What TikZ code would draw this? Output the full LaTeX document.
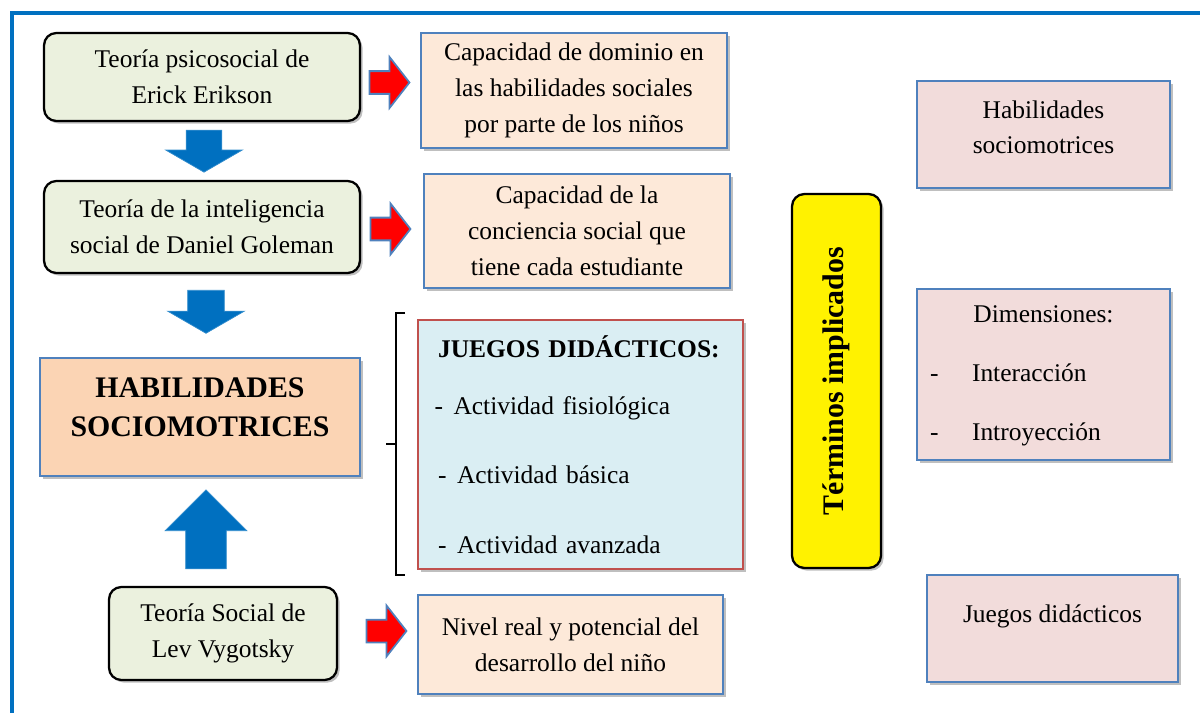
\documentclass[tikz,border=0pt]{standalone}
\usepackage{fontspec}
\setmainfont{Liberation Serif}
\usetikzlibrary{shapes.arrows,shadows}

\definecolor{azulmarco}{HTML}{0070C0}
\definecolor{bordeazul}{HTML}{4F81BD}
\definecolor{borderojo}{HTML}{C0504D}
\definecolor{verdeteoria}{HTML}{EBF1DE}
\definecolor{durazno}{HTML}{FBD4B4}
\definecolor{duraznoclaro}{HTML}{FDE9D9}
\definecolor{celeste}{HTML}{DAEEF3}
\definecolor{rosado}{HTML}{F2DCDB}

\newcommand{\fuentenormal}{\fontsize{14.5}{20.4}\selectfont}
\newcommand{\fuentegrande}{\fontsize{17}{22}\selectfont\bfseries}

\tikzset{
  sombra/.style={drop shadow={shadow xshift=1.5pt, shadow yshift=-1.5pt, opacity=0.25, fill=black}},
  teoria/.style={draw=black, line width=1.3pt, rounded corners=7pt, fill=verdeteoria, align=center, inner sep=0pt, font=\fuentenormal, sombra},
  aporte/.style={draw=bordeazul, line width=1.1pt, fill=duraznoclaro, align=center, inner sep=0pt, font=\fuentenormal, sombra},
  termino/.style={draw=bordeazul, line width=1.1pt, fill=rosado, align=center, inner sep=0pt, font=\fuentenormal, sombra},
  flechaazul/.style={single arrow, fill=azulmarco, draw=azulmarco!80!white, line width=0.4pt, inner xsep=0pt, outer sep=0pt},
  flecharoja/.style={single arrow, fill=red, draw=bordeazul, line width=1pt, inner xsep=0pt, inner ysep=0.21cm, outer sep=0pt,
    minimum height=0.8cm, single arrow head extend=0.28cm, single arrow tip angle=104}
}

\begin{document}
\begin{tikzpicture}[x=0.02cm, y=-0.02cm]
  \useasboundingbox (0,0) rectangle (1200,713);
  % marco
  \draw[azulmarco, line width=2.3pt] (1205,13) -- (12,13) -- (12,720);

  % teorias
  \node at (202,77) [teoria, minimum width=6.32cm, minimum height=1.76cm] (erikson) {Teoría psicosocial de\\Erick Erikson};
  \node at (202,227) [teoria, minimum width=6.32cm, minimum height=1.84cm] (goleman) {Teoría de la inteligencia\\social de Daniel Goleman};
  \node at (200,417) [draw=bordeazul, line width=1.1pt, fill=durazno, align=center, inner sep=0pt, font=\fuentegrande, sombra,
    minimum width=6.4cm, minimum height=2.36cm] (habilidades) {HABILIDADES\\SOCIOMOTRICES\\[-11pt]\mbox{}};
  \node at (223,633.5) [teoria, minimum width=4.56cm, minimum height=1.86cm] (vygotsky) {Teoría Social de\\Lev Vygotsky};

  % flechas azules
  \node at (204,146) [flechaazul, rotate=-90, minimum height=0.84cm, inner ysep=0.35cm,
    single arrow head extend=0.41cm, single arrow tip angle=120] (baja1) {};
  \node at (206,306.5) [flechaazul, rotate=-90, minimum height=0.86cm, inner ysep=0.36cm,
    single arrow head extend=0.4cm, single arrow tip angle=120] (baja2) {};
  \node at (206,539.5) [flechaazul, rotate=90, minimum height=1.58cm, inner ysep=0.4cm,
    single arrow head extend=0.41cm, single arrow tip angle=90] (sube) {};

  % aportes
  \node at (574,90.5) [aporte, minimum width=6.12cm, minimum height=2.3cm] (dominio) {Capacidad de dominio en\\las habilidades sociales\\por parte de los niños};
  \node at (577,231) [aporte, minimum width=6.12cm, minimum height=2.28cm] (conciencia) {Capacidad de la\\conciencia social que\\tiene cada estudiante};
  \node at (570.5,644.5) [aporte, minimum width=6.1cm, minimum height=1.98cm] (nivel) {Nivel real y potencial del\\desarrollo del niño};

  % flechas rojas
  \node at (385,82.5) [flecharoja] (roja1) {};
  \node at (386,229) [flecharoja] (roja2) {};
  \node at (382,631) [flecharoja] (roja3) {};

  % juegos didacticos
  \node at (580.5,444.5) [draw=borderojo, line width=1.1pt, fill=celeste, sombra, minimum width=6.5cm, minimum height=4.98cm,
    inner xsep=0.4cm, inner ysep=0pt, text width=5.7cm, align=left, font=\fuentenormal] (juegos)
    {\textbf{JUEGOS DIDÁCTICOS:}\\[12.5pt]
     \hspace{-2pt}-\hspace{6pt}Actividad fisiológica\\[18.7pt]
     -\hspace{6pt}Actividad básica\\[19.3pt]
     -\hspace{6pt}Actividad avanzada};
  \draw[line width=0.9pt] (405,313) -- (396,313) -- (396,575) -- (405,575);
  \draw[line width=0.9pt] (396,444) -- (386,444);

  % terminos implicados
  \node at (836.5,381) [draw=black, line width=1.3pt, rounded corners=7pt, fill=yellow, sombra, rotate=90,
    minimum width=7.48cm, minimum height=1.78cm, inner sep=0pt, font=\fuentegrande] (terminos) {Términos implicados};
  \node at (1043.5,134.5) [termino, minimum width=5.06cm, minimum height=2.14cm] (habsocio) {Habilidades\\sociomotrices\\[-12pt]\mbox{}};
  \node at (1043.5,374.5) [termino, minimum width=5.06cm, minimum height=3.42cm] (dimensiones)
    {\begin{tabular}{@{}p{0.84cm}@{}p{3.7cm}@{}}
      \multicolumn{2}{c}{Dimensiones:}\\[13pt]
      - & Interacción\\[13pt]
      - & Introyección
     \end{tabular}};
  \node at (1052.5,628.5) [termino, minimum width=5.02cm, minimum height=2.14cm] (juegosdid) {Juegos didácticos\\[-4pt]\mbox{}};
\end{tikzpicture}
\end{document}
